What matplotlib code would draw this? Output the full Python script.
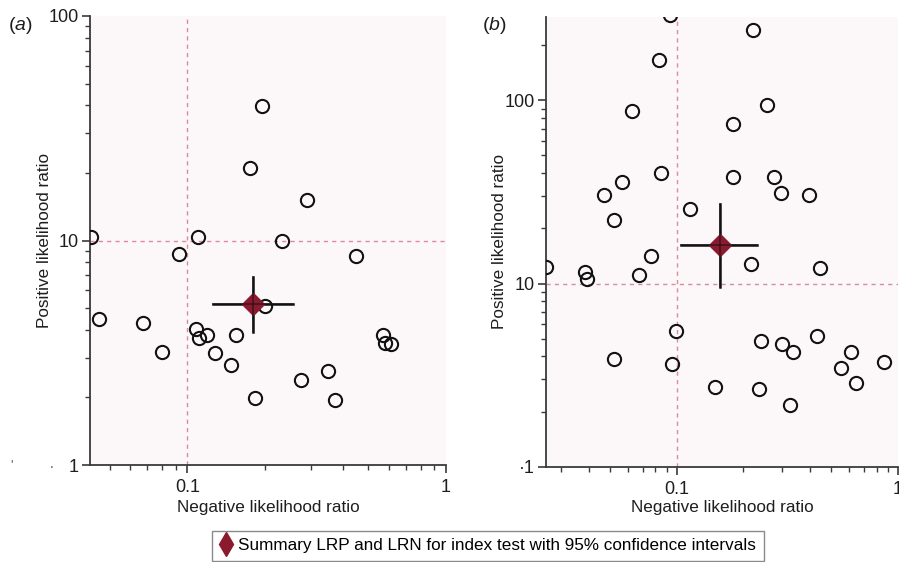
import matplotlib
matplotlib.use("Agg")
import matplotlib.pyplot as plt
from matplotlib.ticker import FixedLocator, FixedFormatter, LogLocator, NullFormatter
from matplotlib.lines import Line2D

plt.rcParams['font.family'] = ['Liberation Sans', 'DejaVu Sans']
plt.rcParams['mathtext.fontset'] = 'custom'
plt.rcParams['mathtext.it'] = 'Liberation Sans:italic'
plt.rcParams['mathtext.rm'] = 'Liberation Sans'

# panel (a) study estimates
lrn_a = [0.195, 0.174, 0.290, 0.0425, 0.110, 0.232, 0.0931, 0.448, 0.200, 0.0456,
         0.0675, 0.108, 0.111, 0.119, 0.154, 0.0796, 0.128, 0.147, 0.275, 0.351,
         0.183, 0.373, 0.572, 0.581, 0.613]
lrp_a = [39.6, 21.0, 15.2, 10.4, 10.35, 9.93, 8.72, 8.54, 5.10, 4.46,
         4.31, 4.04, 3.67, 3.80, 3.80, 3.18, 3.15, 2.79, 2.39, 2.62,
         1.99, 1.94, 3.79, 3.49, 3.47]
summ_a = (0.180, 5.22)
ci_lrn_a = (0.1257, 0.257)
ci_lrp_a = (3.93, 6.91)

# panel (b) study estimates
lrn_b = [0.0932, 0.221, 0.0834, 0.255, 0.0628, 0.179, 0.0849, 0.180, 0.276, 0.0567,
         0.0466, 0.296, 0.397, 0.115, 0.0520, 0.0760, 0.216, 0.0256, 0.442, 0.0386,
         0.0393, 0.0677, 0.0996, 0.241, 0.431, 0.300, 0.334, 0.613, 0.0522, 0.0955,
         0.554, 0.864, 0.148, 0.236, 0.643, 0.326]
lrp_b = [292, 242, 166, 93.9, 87.4, 73.9, 40.1, 38.0, 38.0, 35.8,
         30.4, 31.0, 30.3, 25.6, 22.1, 14.2, 12.7, 12.3, 12.2, 11.5,
         10.65, 11.1, 5.52, 4.83, 5.17, 4.65, 4.21, 4.24, 3.88, 3.63,
         3.46, 3.71, 2.74, 2.64, 2.86, 2.16]
summ_b = (0.156, 16.2)
ci_lrn_b = (0.1049, 0.230)
ci_lrp_b = (9.6, 27.2)

W, H = 899, 562
fig = plt.figure(figsize=(W / 100, H / 100), dpi=100)

bg = '#fcf7f9'
dash_col = '#d98c9c'
diamond_col = '#8b1a2e'
spine_col = '#3a3a3a'
text_col = '#1e1e1e'


def make_axes(rect, xlim, ylim, yticks, ylabels):
    ax = fig.add_axes(rect)
    ax.set_facecolor(bg)
    ax.set_xscale('log')
    ax.set_yscale('log')
    ax.set_xlim(*xlim)
    ax.set_ylim(*ylim)
    for s in ('top', 'right'):
        ax.spines[s].set_visible(False)
    for s in ('left', 'bottom'):
        ax.spines[s].set_color(spine_col)
        ax.spines[s].set_linewidth(1.3)
    ax.xaxis.set_major_locator(FixedLocator([0.1, 1]))
    ax.xaxis.set_major_formatter(FixedFormatter(['0.1', '1']))
    ax.xaxis.set_minor_locator(LogLocator(base=10, subs=range(2, 10), numticks=20))
    ax.xaxis.set_minor_formatter(NullFormatter())
    ax.yaxis.set_major_locator(FixedLocator(yticks))
    ax.yaxis.set_major_formatter(FixedFormatter(ylabels))
    ax.yaxis.set_minor_locator(LogLocator(base=10, subs=range(2, 10), numticks=20))
    ax.yaxis.set_minor_formatter(NullFormatter())
    ax.tick_params(which='major', length=6, width=1.2, color=spine_col,
                   labelsize=13, labelcolor=text_col)
    ax.tick_params(axis='x', which='major', pad=4)
    ax.tick_params(axis='y', which='major', pad=2)
    ax.tick_params(which='minor', length=3.5, width=1.0, color=spine_col)
    ax.axvline(0.1, color=dash_col, lw=1, dashes=(3, 3), zorder=1)
    ax.axhline(10, color=dash_col, lw=1, dashes=(3, 3), zorder=1)
    ax.set_xlabel('Negative likelihood ratio', fontsize=12.3, color=text_col)
    ax.set_ylabel('Positive likelihood ratio', fontsize=12.3, color=text_col)
    return ax


def draw(ax, lrn, lrp, summ, ci_lrn, ci_lrp):
    ax.plot(lrn, lrp, 'o', mfc='none', mec='#111111', ms=9.5, mew=1.5,
            linestyle='none', zorder=3)
    ax.plot(ci_lrn, [summ[1], summ[1]], color='#111111', lw=1.8, zorder=4)
    ax.plot([summ[0], summ[0]], ci_lrp, color='#111111', lw=1.8, zorder=4)
    ax.plot([summ[0]], [summ[1]], 'D', color=diamond_col, ms=11, zorder=5)
    ax.plot(ci_lrn, [summ[1], summ[1]], color='#111111', lw=1.2, zorder=6, alpha=0.6)
    ax.plot([summ[0], summ[0]], ci_lrp, color='#111111', lw=1.2, zorder=6, alpha=0.6)


# panel (a)
ax_a = make_axes([90 / W, (H - 465) / H, 356 / W, 449 / H],
                 (0.042, 1.0), (1, 100), [1, 10, 100], ['1', '10', '100'])
draw(ax_a, lrn_a, lrp_a, summ_a, ci_lrn_a, ci_lrp_a)
ax_a.yaxis.set_label_coords(-0.108, 0.5)
ax_a.xaxis.set_label_coords(0.5, -0.078)

# panel (b)
ax_b = make_axes([546 / W, (H - 466.7) / H, 352 / W, 449.7 / H],
                 (0.0256, 1.0), (1, 285), [1, 10, 100], ['·1', '10', '100'])
draw(ax_b, lrn_b, lrp_b, summ_b, ci_lrn_b, ci_lrp_b)
ax_b.yaxis.set_label_coords(-0.111, 0.5)
ax_b.xaxis.set_label_coords(0.5, -0.074)

fig.text(8 / W, 1 - 30 / H, r'($\mathit{a}$)', fontsize=14, color=text_col)
fig.text(482 / W, 1 - 30 / H, r'($\mathit{b}$)', fontsize=14, color=text_col)
fig.text(10 / W, 1 - 468 / H, "'", fontsize=9, color='#555555')
fig.text(50 / W, 1 - 468 / H, ".", fontsize=10, color='#555555')

handle = Line2D([], [], marker='d', color=diamond_col, linestyle='none', markersize=12)
fig.legend([handle], ['Summary LRP and LRN for index test with 95% confidence intervals'],
           loc='lower center', bbox_to_anchor=(488 / W, 1 / H), frameon=True,
           fancybox=False, edgecolor='#8a8a8a', fontsize=12.3, handlelength=0.7,
           handletextpad=0.4, borderpad=0.45, borderaxespad=0, framealpha=1)

fig.savefig('out.png', dpi=100)
